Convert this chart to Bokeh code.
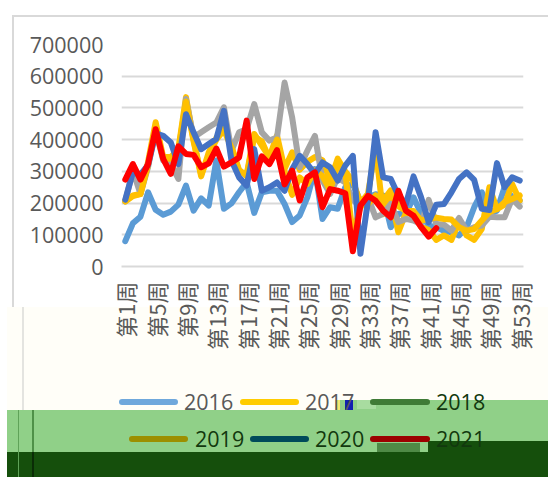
from bokeh.plotting import figure
from bokeh.layouts import column
from bokeh.models import Range1d, FixedTicker, Div
from bokeh.embed import file_html
from bokeh.resources import INLINE

weeks = list(range(1, 54))
tick_weeks = [1, 5, 9, 13, 17, 21, 25, 29, 33, 37, 41, 45, 49, 53]
tick_labels = [f"第{w}周" for w in tick_weeks]
y_ticks = [0, 100000, 200000, 300000, 400000, 500000, 600000, 700000]

s2016 = [80,136,157,234,179,163,173,195,255,176,215,192,334,182,199,234,265,169,234,239,
         239,197,140,161,218,307,150,187,182,250,260,205,218,228,224,124,166,166,218,166,
         129,124,113,108,98,124,187,234,166,176,250,218,208]
s2017 = [208,224,229,330,455,345,345,370,534,400,284,360,405,440,380,300,290,418,381,345,
         413,308,360,305,330,345,335,270,340,300,270,200,230,375,165,220,108,170,165,125,
         115,84,98,84,140,98,84,118,250,181,195,260,208]
s2018 = [205,302,229,313,430,334,323,276,528,407,423,439,454,502,365,423,433,512,423,397,
         407,580,470,313,365,412,271,229,280,265,210,190,218,155,166,197,140,150,145,134,
         210,134,132,113,153,113,124,129,157,155,155,213,189]
s2019 = [205,222,228,320,440,340,340,365,520,395,290,350,400,430,375,305,285,410,395,340,
         400,300,226,281,260,303,285,240,320,295,100,190,197,224,208,240,190,175,175,145,
         150,154,150,148,124,113,118,145,171,181,203,213,224]
s2020 = [211,297,290,320,420,412,391,323,480,423,370,386,402,491,334,281,255,370,239,250,
         265,239,307,349,323,292,328,313,271,318,349,40,208,423,281,276,224,197,284,218,
         140,195,197,234,276,297,273,182,178,326,250,281,271]
s2021 = [274,323,274,323,433,339,292,379,355,352,313,325,372,315,328,344,460,276,347,323,
         367,259,302,208,281,297,187,244,239,231,48,192,223,207,176,155,239,176,160,124,
         94,121]

series = [("2016", s2016, "#5B9BD5"), ("2017", s2017, "#FFC000"), ("2018", s2018, "#A5A5A5"),
          ("2019", s2019, "#FFC000"), ("2020", s2020, "#4472C4"), ("2021", s2021, "#FF0000")]

p = figure(width=548, height=477, output_backend="svg", toolbar_location=None,
           x_range=Range1d(0.5, 53.5), y_range=Range1d(0, 700000),
           min_border_left=121, min_border_right=25, min_border_top=44, min_border_bottom=211)
p.outline_line_color = None
p.background_fill_color = None
p.border_fill_color = None

layers = []
def band(l, t, r, b, color):
    # painted behind the transparent canvas, first added is on top
    layers.append((f"linear-gradient({color},{color})", f"{l}px {t}px", f"{r-l}px {b-t}px"))

# small blotches near the legend
band(345, 400, 353, 410, "#1020B0")
band(335, 400, 340, 410, "#F4E870")
band(357, 400, 376, 409, "#A8DCA0")
band(377, 443, 420, 452, "#4F8A46")
# frame lines
band(12, 15, 14, 307, "#D9D9D9")
band(12, 15, 548, 17, "#D9D9D9")
band(22, 307, 24, 410, "#E4E4E0")
band(18, 410, 19, 477, "#5FA258")
band(32, 410, 34, 452, "#4F9048")
band(32, 452, 34, 477, "#0A2C06")
# background patches
band(428, 441, 548, 452, "#154F0C")
band(7, 452, 548, 477, "#154F0C")
band(340, 400, 548, 411, "#90D088")
band(7, 410, 548, 452, "#90D088")
band(7, 307, 548, 411, "#FFFEF8")

p.styles = {
    "background-color": "white",
    "background-repeat": "no-repeat",
    "background-image": ",".join(l[0] for l in layers),
    "background-position": ",".join(l[1] for l in layers),
    "background-size": ",".join(l[2] for l in layers),
}

for name, vals, color in series:
    p.line(weeks[:len(vals)], [v * 1000 for v in vals], line_color=color, line_width=6,
           line_join="round", line_cap="round", name=name)

p.xgrid.visible = False
p.ygrid.grid_line_color = "#D9D9D9"
p.ygrid.grid_line_width = 2
p.ygrid.ticker = FixedTicker(ticks=y_ticks)

p.yaxis.ticker = FixedTicker(ticks=y_ticks)
p.yaxis.axis_line_color = None
p.yaxis.major_tick_line_color = None
p.yaxis.minor_tick_line_color = None
p.yaxis.major_label_text_font = "Open Sans"
p.yaxis.major_label_text_font_size = "21.5px"
p.yaxis.major_label_text_color = "#595959"
p.yaxis.major_label_standoff = 12
p.yaxis.formatter.use_scientific = False

p.xaxis.ticker = FixedTicker(ticks=tick_weeks)
p.xaxis.major_label_overrides = dict(zip(tick_weeks, tick_labels))
p.xaxis.axis_line_color = "#D9D9D9"
p.xaxis.axis_line_width = 2
p.xaxis.major_tick_line_color = None
p.xaxis.minor_tick_line_color = None
p.xaxis.major_label_orientation = 1.5708
p.xaxis.major_label_text_font = "Noto Sans CJK SC"
p.xaxis.major_label_text_font_size = "22px"
p.xaxis.major_label_text_color = "#595959"
p.xaxis.major_label_standoff = 9

legend_rows = [
    ("2016", 119, 178, 402, 184, "#6FA8DC", "#595959"),
    ("2017", 240, 299, 402, 305, "#FFCC00", "#595959"),
    ("2018", 370, 430, 402, 436, "#3F7B36", "#12380E"),
    ("2019", 129, 188, 439, 195, "#9C8F00", "#12380E"),
    ("2020", 250, 309, 439, 315, "#004A5A", "#12380E"),
    ("2021", 370, 430, 439, 436, "#9C0000", "#12380E"),
]
html = []
for name, x0, x1, yc, tx, kc, tc in legend_rows:
    html.append(f'<span style="position:absolute;left:{x0}px;top:{yc-3}px;width:{x1-x0}px;height:6px;'
                f'border-radius:3px;background:{kc}"></span>')
    html.append(f'<span style="position:absolute;left:{tx}px;top:{yc-15}px;line-height:30px;'
                f'font-family:\'Open Sans\';font-size:21.5px;color:{tc}">{name}</span>')

legend_div = Div(text="".join(html), width=548, height=477, margin=0,
                 styles={"position": "absolute", "left": "0px", "top": "0px", "pointer-events": "none"})

page = column(p, legend_div, width=548, height=477)
open("out.html", "w").write(file_html(page, INLINE))
